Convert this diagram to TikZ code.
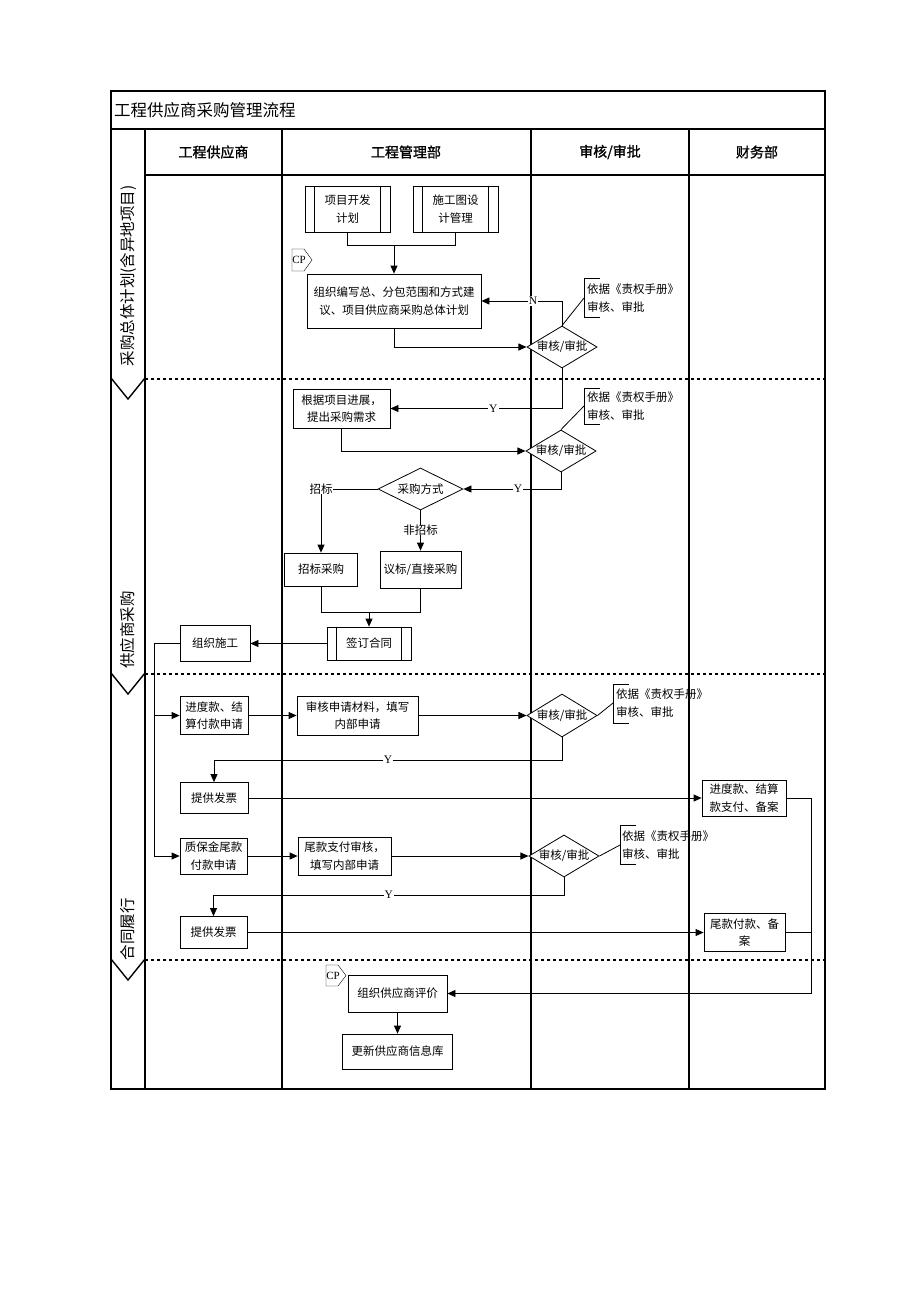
\documentclass[tikz,border=0pt]{standalone}
\usepackage{fontspec}
\setmainfont{Noto Sans CJK SC}
\newfontfamily\cjkb[FakeBold=1.2]{Noto Sans CJK SC}
\newfontfamily\tms{Liberation Serif}
\usetikzlibrary{arrows.meta,shapes.geometric}
\newcommand\bodyf{\fontsize{11.5}{17.5}\selectfont}
\newcommand\ppinner[1]{\draw[line width=0.8pt] ([xshift=10pt]#1.north west) -- ([xshift=10pt]#1.south west) ([xshift=-10pt]#1.north east) -- ([xshift=-10pt]#1.south east);}
\begin{document}
\begin{tikzpicture}[x=1pt,y=-1pt,
  box/.style={draw, line width=0.8pt, fill=white, align=center, inner sep=0pt, font=\bodyf},
  dia/.style={draw, diamond, aspect=1.67, line width=0.8pt, fill=white, inner sep=0pt, font=\bodyf, minimum width=70pt, minimum height=42pt},
  arr/.style={-{Triangle[length=8pt,width=7pt]}, line width=0.8pt},
  con/.style={line width=0.8pt},
  lab/.style={fill=white, inner sep=1pt, font=\tms\fontsize{11.5}{12}\selectfont},
  txt/.style={inner sep=0pt, font=\bodyf},
  note/.style={inner sep=0pt, align=left, font=\bodyf, anchor=west},
  frame/.style={line width=1.6pt},
  sep/.style={line width=2.6pt, dash pattern=on 3pt off 3pt},
  head/.style={font=\cjkb\fontsize{14}{14}\selectfont},
  phase/.style={rotate=90, font=\fontsize{15.5}{16}\selectfont}
]
\useasboundingbox (0,0) rectangle (920,1302);

% ---------- frame ----------
\draw[frame] (111,91) rectangle (825,1089);
\draw[frame] (111,129) -- (825,129);
\draw[frame] (145,175) -- (825,175);
\draw[frame] (145,129) -- (145,1089);
\draw[frame] (282,129) -- (282,1089);
\draw[frame] (531,129) -- (531,1089);
\draw[frame] (689,129) -- (689,1089);

\node[anchor=west, inner sep=0pt, font=\fontsize{16.5}{17}\selectfont] (title) at (114,110) {工程供应商采购管理流程};
\node[head] (h1) at (213.5,152) {工程供应商};
\node[head] (h2) at (406,152) {工程管理部};
\node[head] (h3) at (610,152) {审核/审批};
\node[head] (h4) at (757,152) {财务部};

% phase separators
\draw[sep] (145,379) -- (825,379);
\draw[sep] (145,674) -- (825,674);
\draw[sep] (145,960) -- (825,960);
\draw[line width=1.4pt] (111,378) -- (128,399) -- (145,378);
\draw[line width=1.4pt] (111,673) -- (128,694) -- (145,673);
\draw[line width=1.4pt] (111,959) -- (128,980) -- (145,959);

\node[phase] (p1) at (128,276) {采购总体计划(含异地项目)};
\node[phase] (p2) at (128,630) {供应商采购};
\node[phase] (p3) at (128,929) {合同履行};

% ---------- phase 1 ----------
\node[box, minimum width=85pt, minimum height=46pt] (pp1) at (347.5,209) {项目开发\\计划};
\ppinner{pp1}
\node[box, minimum width=85pt, minimum height=46pt] (pp2) at (455.5,209) {施工图设\\计管理};
\ppinner{pp2}

\draw (292,249) -- (304,249) -- (312,260) -- (304,271) -- (292,271) -- cycle;
\node[inner sep=0pt, font=\tms\fontsize{11}{11}\selectfont] (cp1) at (299,260) {CP};

\node[box, minimum width=174pt, minimum height=54pt] (b1) at (394,301) {组织编写总、分包范围和方式建\\议、项目供应商采购总体计划};
\coordinate (j1) at (394,245);
\draw[con] (pp1.south) |- (j1);
\draw[con] (pp2.south) |- (j1);
\draw[arr] (j1) -- (b1.north);

\node[dia] (d1) at (562,347) {审核/审批};
\draw[arr] (b1.south) |- (d1.west);
\draw[arr] (d1.north) |- node[lab, pos=0.68] {N} (b1.east);

\coordinate (k1) at (584,298);
\draw[con] (600,278) -- (584,278) -- (584,317) -- (600,317);
\node[note] (n1) at (587,298) {依据《责权手册》\\审核、审批};
\draw[con] (d1.north) -- (k1);

% ---------- phase 2 ----------
\node[box, minimum width=97pt, minimum height=39pt] (b2) at (341.5,408.5) {根据项目进展，\\提出采购需求};
\draw[arr] (d1.south) |- node[lab, pos=0.7] {Y} (b2.east);

\node[dia] (d2) at (561,451) {审核/审批};
\draw[arr] (b2.south) |- (d2.west);
\coordinate (k2) at (584,406);
\draw[con] (600,388) -- (584,388) -- (584,424) -- (600,424);
\node[note] (n2) at (587,406) {依据《责权手册》\\审核、审批};
\draw[con] (d2.north) -- (k2);

\node[dia, aspect=2, minimum width=85pt, minimum height=42pt] (d3) at (420.5,489) {采购方式};
\draw[arr] (d2.south) |- node[lab, pos=0.72] {Y} (d3.east);

\node[txt] (zb) at (321,489) {招标};
\node[txt] (fzb) at (420.5,530) {非招标};
\node[box, minimum width=73pt, minimum height=33pt] (b3) at (321,569.5) {招标采购};
\node[box, minimum width=81pt, minimum height=37pt] (b4) at (420.5,569.5) {议标/直接采购};
\draw[con] (d3.west) -- (zb.east);
\draw[arr] (zb.south) -- (b3.north);
\draw[con] (d3.south) -- (fzb.north);
\draw[arr] (fzb.south) -- (b4.north);

\node[box, minimum width=84pt, minimum height=33pt] (pp3) at (369,643.5) {签订合同};
\ppinner{pp3}
\coordinate (j2) at (369,612);
\draw[con] (b3.south) |- (j2);
\draw[con] (b4.south) |- (j2);
\draw[arr] (j2) -- (pp3.north);

\node[box, minimum width=70pt, minimum height=36pt] (s1) at (215,643.5) {组织施工};
\draw[arr] (pp3.west) -- (s1.east);

% ---------- phase 3 ----------
\node[box, minimum width=68pt, minimum height=38pt] (s2) at (214,715.5) {进度款、结\\算付款申请};
\node[box, minimum width=121pt, minimum height=39pt] (b5) at (357.5,715.5) {审核申请材料，填写\\内部申请};
\node[dia, minimum height=43pt] (d4) at (562,715.5) {审核/审批};
\draw[arr] (s2.east) -- (b5.west);
\draw[arr] (b5.east) -- (d4.west);
\coordinate (k3) at (613,703);
\draw[con] (629,684) -- (613,684) -- (613,723) -- (629,723);
\node[note] (n3) at (616,703) {依据《责权手册》\\审核、审批};
\draw[con] (d4.east) -- (k3);

\node[box, minimum width=68pt, minimum height=31pt] (s3) at (214,798) {提供发票};
\coordinate (y1) at (214,760);
\draw[arr] (d4.south) |- node[lab, pos=0.75] {Y} (y1) -- (s3.north);

\node[box, minimum width=84pt, minimum height=36pt] (f1) at (744,798) {进度款、结算\\款支付、备案};
\draw[arr] (s3.east) -- (f1.west);

\node[box, minimum width=67pt, minimum height=36pt] (s4) at (213.5,856) {质保金尾款\\付款申请};
\node[box, minimum width=93pt, minimum height=38pt] (b6) at (344.5,856) {尾款支付审核，\\填写内部申请};
\node[dia] (d5) at (564,856) {审核/审批};
\draw[arr] (s4.east) -- (b6.west);
\draw[arr] (b6.east) -- (d5.west);
\coordinate (k4) at (620,845);
\draw[con] (636,825) -- (620,825) -- (620,864) -- (636,864);
\node[note] (n4) at (622,845) {依据《责权手册》\\审核、审批};
\draw[con] (d5.east) -- (k4);

\node[box, minimum width=67pt, minimum height=32pt] (s5) at (213.5,932.5) {提供发票};
\coordinate (y2) at (213.5,895);
\draw[arr] (d5.south) |- node[lab, pos=0.75] {Y} (y2) -- (s5.north);

\node[box, minimum width=81pt, minimum height=38pt] (f2) at (744.5,932.5) {尾款付款、备\\案};
\draw[arr] (s5.east) -- (f2.west);

% supplier-side feed line
\coordinate (v1) at (154,643.5);
\draw[arr] (s1.west) -- (v1) |- (s4.west);
\draw[arr] (v1 |- s2.west) -- (s2.west);

% ---------- evaluation ----------
\draw (326,965) -- (338,965) -- (346,975.5) -- (338,986) -- (326,986) -- cycle;
\node[inner sep=0pt, font=\tms\fontsize{11}{11}\selectfont] (cp2) at (333,975.5) {CP};

\node[box, minimum width=99pt, minimum height=37pt] (b7) at (397.5,993.5) {组织供应商评价};
\node[box, minimum width=110pt, minimum height=35pt] (b8) at (397.5,1051.5) {更新供应商信息库};
\draw[arr] (b7.south) -- (b8.north);

\coordinate (r1) at (811,798);
\draw[arr] (f1.east) -- (r1) |- (b7.east);
\draw[con] (f2.east) -- (f2.east -| r1);
\end{tikzpicture}
\end{document}
